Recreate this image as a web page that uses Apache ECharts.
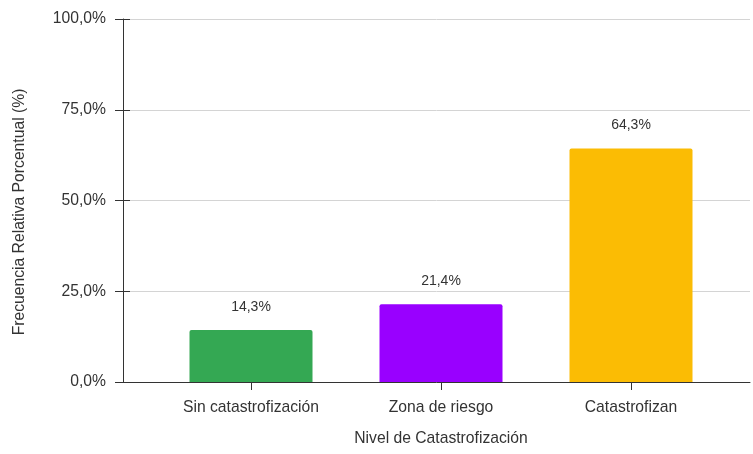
<!DOCTYPE html>
<html>
<head>
<meta charset="utf-8">
<script src="https://cdn.jsdelivr.net/npm/echarts@6/dist/echarts.min.js"></script>
<style>
  html, body { margin: 0; padding: 0; background: #fff; }
  #chart { width: 753px; height: 454px; }
</style>
</head>
<body>
<div id="chart"></div>
<script>
// Distribución por nivel de catastrofización
const categories = ['Sin catastrofización', 'Zona de riesgo', 'Catastrofizan'];
const percentages = [14.3, 21.4, 64.3];
const barColors = ['#34a853', '#9900ff', '#fbbc04'];
const yTicks = { min: 0, max: 100, interval: 25 };
const yTitle = 'Frecuencia Relativa Porcentual (%)';
const xTitle = 'Nivel de Catastrofización';

const FONT = '"Liberation Sans", Arial, sans-serif';
const TEXT = '#333';
const SIZE = 15.7;

const fmt = v => v.toFixed(1).replace('.', ',') + '%';

const chart = echarts.init(document.getElementById('chart'), null, { renderer: 'canvas' });

chart.setOption({
  animation: false,
  textStyle: { fontFamily: FONT },
  grid: [
    // frame: value axis, gridlines and baseline
    { left: 123, right: 3, top: 19, bottom: 72, outerBoundsMode: 'none', containLabel: false },
    // category band for the bars
    { left: 156, width: 570, top: 19, bottom: 72, outerBoundsMode: 'none', containLabel: false }
  ],
  graphic: [
    {
      type: 'text',
      x: 20, y: 212,
      rotation: Math.PI / 2,
      style: {
        text: yTitle, fill: TEXT, fontSize: SIZE, fontFamily: FONT,
        align: 'center', verticalAlign: 'middle'
      }
    }
  ],
  xAxis: [
    {
      gridIndex: 0, type: 'value', min: 0, max: 1,
      axisLine: { show: true, lineStyle: { color: '#333', width: 1 } },
      axisTick: { show: false }, axisLabel: { show: false }, splitLine: { show: false }
    },
    {
      gridIndex: 1, type: 'category', data: categories, position: 'bottom',
      axisLine: { show: false },
      axisTick: { show: true, alignWithLabel: true, length: 8, lineStyle: { color: '#333' } },
      axisLabel: { color: TEXT, fontSize: SIZE, fontFamily: FONT, margin: 18 },
      name: xTitle, nameLocation: 'middle', nameGap: 49,
      nameTextStyle: { color: TEXT, fontSize: SIZE, fontFamily: FONT }
    },
    {
      gridIndex: 1, type: 'category', data: categories, position: 'bottom',
      axisLine: { show: false },
      axisTick: { show: true, inside: true, alignWithLabel: true, length: 7, lineStyle: { color: '#333' } },
      axisLabel: { show: false }
    }
  ],
  yAxis: [
    {
      gridIndex: 0, type: 'value', min: yTicks.min, max: yTicks.max, interval: yTicks.interval,
      axisLine: { show: true, lineStyle: { color: '#333', width: 1 } },
      axisTick: { show: true, length: 8, lineStyle: { color: '#333' } },
      axisLabel: { color: TEXT, fontSize: SIZE, fontFamily: FONT, margin: 17, formatter: fmt },
      splitLine: { show: true, lineStyle: { color: '#d4d4d4', width: 1 } }
    },
    {
      gridIndex: 0, type: 'value', min: yTicks.min, max: yTicks.max, interval: yTicks.interval,
      position: 'left',
      axisLine: { show: false },
      axisTick: { show: true, inside: true, length: 7, lineStyle: { color: '#333' } },
      axisLabel: { show: false }, splitLine: { show: false }
    },
    {
      gridIndex: 1, type: 'value', min: yTicks.min, max: yTicks.max, show: false
    }
  ],
  series: [
    {
      type: 'bar',
      xAxisIndex: 1, yAxisIndex: 2,
      barWidth: 123,
      data: percentages.map((v, i) => ({
        value: v,
        itemStyle: { color: barColors[i], borderRadius: [2, 2, 0, 0] }
      })),
      label: {
        show: true, position: 'top', distance: 16,
        color: TEXT, fontSize: 14, fontFamily: FONT,
        formatter: p => fmt(p.value)
      },
      z: 3
    }
  ]
});
</script>
</body>
</html>
